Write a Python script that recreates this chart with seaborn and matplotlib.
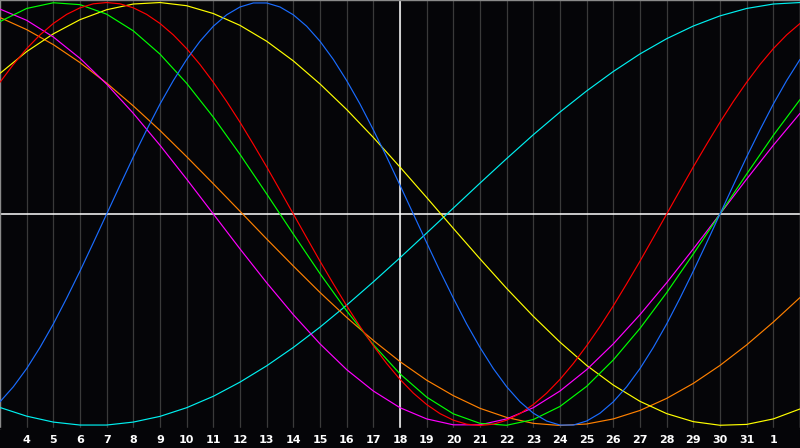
import pandas as pd
import matplotlib
matplotlib.use('Agg')
import matplotlib.pyplot as plt
import seaborn as sns

# day positions along the x axis (3 .. 33, day 32 is the 1st of next month)
days = list(range(3, 34))
half_days = [3 + 0.5 * i for i in range(61)]
tick_days = list(range(4, 33))
tick_labels = [str(d) for d in range(4, 32)] + ['1']

# slow cycles, read once per day
cyan = [-0.915, -0.956, -0.984, -0.998, -0.998, -0.984, -0.957, -0.916, -0.862, -0.795,
        -0.718, -0.631, -0.535, -0.431, -0.321, -0.207, -0.090, 0.028, 0.146, 0.262,
        0.375, 0.482, 0.582, 0.674, 0.757, 0.829, 0.889, 0.937, 0.972, 0.993, 1.000]
orange = [0.929, 0.872, 0.801, 0.716, 0.619, 0.511, 0.395, 0.271, 0.143, 0.013,
          -0.118, -0.246, -0.371, -0.489, -0.598, -0.698, -0.786, -0.859, -0.919, -0.962,
          -0.990, -1.000, -0.993, -0.969, -0.929, -0.872, -0.801, -0.716, -0.619, -0.511, -0.395]
yellow = [0.665, 0.768, 0.852, 0.919, 0.966, 0.993, 1.000, 0.985, 0.948, 0.892,
          0.817, 0.724, 0.615, 0.494, 0.362, 0.222, 0.078, -0.068, -0.212, -0.352,
          -0.484, -0.606, -0.716, -0.809, -0.886, -0.944, -0.982, -0.999, -0.995, -0.969, -0.922]
magenta = [0.969, 0.916, 0.837, 0.736, 0.614, 0.476, 0.325, 0.165, 0.0, -0.165,
           -0.325, -0.476, -0.614, -0.736, -0.837, -0.916, -0.969, -0.997, -0.997, -0.969,
           -0.916, -0.837, -0.736, -0.614, -0.476, -0.325, -0.165, 0.0, 0.165, 0.325, 0.476]
green = [0.910, 0.972, 0.999, 0.990, 0.945, 0.866, 0.756, 0.618, 0.458, 0.282,
         0.095, -0.095, -0.282, -0.458, -0.618, -0.756, -0.866, -0.945, -0.990, -0.999,
         -0.972, -0.910, -0.815, -0.690, -0.541, -0.372, -0.189, 0.0, 0.189, 0.372, 0.541]

# fast cycles, read every half day
red = [0.623, 0.707, 0.782, 0.847, 0.901, 0.944, 0.975, 0.994, 1.000, 0.994,
       0.975, 0.944, 0.901, 0.847, 0.782, 0.707, 0.623, 0.532, 0.434, 0.330,
       0.223, 0.112, 0.0, -0.112, -0.223, -0.330, -0.434, -0.532, -0.623, -0.707,
       -0.782, -0.847, -0.901, -0.944, -0.975, -0.994, -1.000, -0.994, -0.975, -0.944,
       -0.901, -0.847, -0.782, -0.707, -0.623, -0.532, -0.434, -0.330, -0.223, -0.112,
       0.0, 0.112, 0.223, 0.330, 0.434, 0.532, 0.623, 0.707, 0.782, 0.847, 0.901]
blue = [-0.888, -0.817, -0.731, -0.631, -0.520, -0.398, -0.270, -0.136, 0.0, 0.136,
        0.270, 0.398, 0.520, 0.631, 0.731, 0.817, 0.888, 0.942, 0.979, 0.998,
        0.998, 0.979, 0.942, 0.888, 0.817, 0.731, 0.631, 0.520, 0.398, 0.270,
        0.136, 0.0, -0.136, -0.270, -0.398, -0.520, -0.631, -0.731, -0.817, -0.888,
        -0.942, -0.979, -0.998, -0.998, -0.979, -0.942, -0.888, -0.817, -0.731, -0.631,
        -0.520, -0.398, -0.270, -0.136, 0.0, 0.136, 0.270, 0.398, 0.520, 0.631, 0.731]

series = [('cyan', days, cyan), ('orange', days, orange), ('yellow', days, yellow),
          ('magenta', days, magenta), ('green', days, green),
          ('red', half_days, red), ('blue', half_days, blue)]
colors = {'cyan': '#00f0f0', 'orange': '#ff8000', 'yellow': '#ffff00', 'magenta': '#ff00ff',
          'green': '#00ff00', 'red': '#ff0000', 'blue': '#1a6cff'}

df = pd.concat([pd.DataFrame({'day': x, 'value': v, 'cycle': k}) for k, x, v in series])

bg = '#050508'
sns.set_style('dark')
plt.rcParams['font.family'] = ['DejaVu Sans']

fig = plt.figure(figsize=(8, 4.48), dpi=100, facecolor=bg)
ax = fig.add_axes([0, 20 / 448, 1, 428 / 448])
ax.set_facecolor(bg)

# day grid
for d in tick_days:
    ax.axvline(d, color='#3a3a3a', lw=0.9, zorder=1)
ax.axvline(18, color='white', lw=1.1, zorder=2)
ax.axhline(0, color='white', lw=1.1, zorder=2)

sns.lineplot(data=df, x='day', y='value', hue='cycle', palette=colors,
             legend=False, linewidth=0.85, ax=ax, zorder=3)

ax.set_xlim(3, 33)
ax.set_ylim(-1.012, 1.012)
ax.set_xticks(tick_days)
ax.set_xticklabels(tick_labels, color='white', fontsize=8, fontweight='bold')
ax.tick_params(axis='x', length=0, pad=5)
ax.set_yticks([])
ax.set_xlabel('')
ax.set_ylabel('')
ax.grid(False)
for side in ['left', 'top', 'right', 'bottom']:
    ax.spines[side].set_visible(True)
    ax.spines[side].set_color('#8a8a8a')
    ax.spines[side].set_linewidth(1)
ax.spines['bottom'].set_color(bg)

fig.savefig('out.png', dpi=100, facecolor=bg)
